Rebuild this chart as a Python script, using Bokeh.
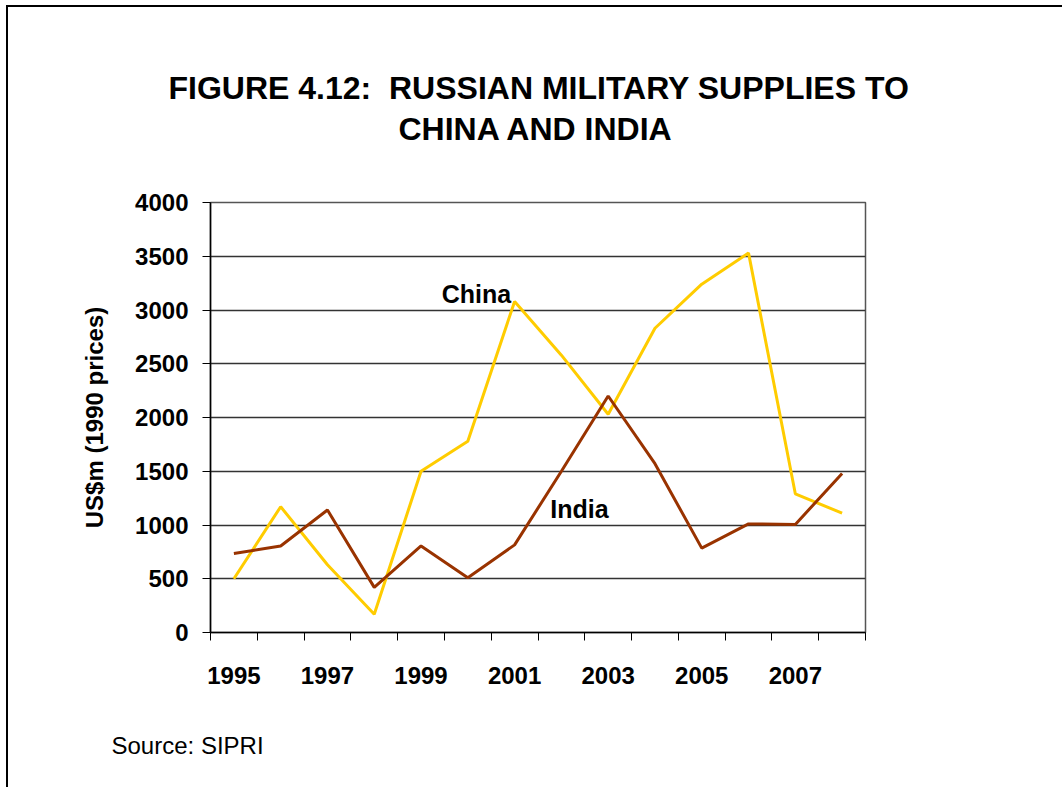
from bokeh.plotting import figure
from bokeh.models import FixedTicker, Label, Range1d, Title
from bokeh.embed import file_html
from bokeh.resources import INLINE

years = list(range(1995, 2009))
china = [500, 1170, 630, 170, 1500, 1780, 3080, 2580, 2030, 2830, 3240, 3530, 1290, 1110]
india = [735, 805, 1140, 420, 805, 510, 815, 1500, 2200, 1570, 785, 1010, 1005, 1480]
y_ticks = [0, 500, 1000, 1500, 2000, 2500, 3000, 3500, 4000]
x_tick_labels = [1995, 1997, 1999, 2001, 2003, 2005, 2007]

FONT = "Liberation Sans"

# canvas placed at page (8, 7)
CX, CY = 8, 7
W, H = 1056, 782
FX0, FX1, FY0, FY1 = 210.0, 865.0, 202.0, 632.0

p = figure(width=W, height=H, output_backend="svg", toolbar_location=None,
           x_range=Range1d(1994.5, 2008.5), y_range=Range1d(0, 4000),
           min_border_left=int(FX0 - CX), min_border_top=int(FY0 - CY),
           min_border_right=int(CX + W - FX1), min_border_bottom=int(CY + H - FY1))
p.title = None
p.styles = {"margin-left": "6px", "margin-top": "5px",
            "border-left": "2px solid black", "border-top": "2px solid black"}

p.background_fill_color = "white"
p.border_fill_color = "white"
p.outline_line_color = "#555555"
p.outline_line_width = 1.5

# axes
p.yaxis.ticker = FixedTicker(ticks=y_ticks)
p.yaxis.major_tick_out = 8
p.yaxis.major_tick_in = 0
p.yaxis.minor_tick_out = 0
p.yaxis.minor_tick_in = 0
p.yaxis.major_label_standoff = 14
p.yaxis.major_label_text_font = FONT
p.yaxis.major_label_text_font_style = "bold"
p.yaxis.major_label_text_font_size = "24px"
p.yaxis.major_label_text_color = "black"
p.yaxis.axis_line_color = "black"
p.yaxis.axis_line_width = 1.5
p.yaxis.major_tick_line_color = "black"
p.yaxis.axis_label = "US$m (1990 prices)"
p.yaxis.axis_label_text_font = FONT
p.yaxis.axis_label_text_font_style = "bold"
p.yaxis.axis_label_text_font_size = "24px"
p.yaxis.axis_label_text_color = "black"
p.yaxis.axis_label_standoff = 24

p.xaxis.ticker = FixedTicker(ticks=x_tick_labels,
                             minor_ticks=[y - 0.5 for y in years] + [years[-1] + 0.5])
p.xaxis.major_tick_out = 0
p.xaxis.major_tick_in = 0
p.xaxis.minor_tick_out = 8
p.xaxis.minor_tick_in = 0
p.xaxis.minor_tick_line_color = "black"
p.xaxis.major_label_standoff = 26
p.xaxis.major_label_text_font = FONT
p.xaxis.major_label_text_font_style = "bold"
p.xaxis.major_label_text_font_size = "24px"
p.xaxis.major_label_text_color = "black"
p.xaxis.axis_line_color = "black"
p.xaxis.axis_line_width = 1.5
# blank spacer label under the year labels (pushes the source note down)
p.xaxis.axis_label = "\u00a0"
p.xaxis.axis_label_text_font_size = "12px"
p.xaxis.axis_label_standoff = 0

p.xgrid.grid_line_color = None
p.ygrid.ticker = FixedTicker(ticks=y_ticks)
p.ygrid.grid_line_color = "#333333"
p.ygrid.grid_line_width = 1.5

p.line(years, china, line_color="#FFCC00", line_width=3)
p.line(years, india, line_color="#993300", line_width=3)

# titles (first added sits closest to the frame)
p.add_layout(Title(text="CHINA AND INDIA", align="left", offset=403 - FX0 - 5,
                   text_font=FONT, text_font_size="32px", text_font_style="bold",
                   text_color="black", standoff=112), "above")
p.add_layout(Title(text="FIGURE 4.12: \u00a0RUSSIAN MILITARY SUPPLIES TO", align="left",
                   offset=173 - FX0 - 5, text_font=FONT, text_font_size="32px",
                   text_font_style="bold", text_color="black", standoff=-107), "above")
p.add_layout(Title(text="Source: SIPRI", align="left", offset=116 - FX0 - 5,
                   text_font=FONT, text_font_size="24px", text_font_style="normal",
                   text_color="black", standoff=52), "below")

def px2x(px):
    return 1994.5 + (px - FX0) / (FX1 - FX0) * 14.0
def py2y(py):
    return (FY1 - py) / (FY1 - FY0) * 4000.0

def add_data_label(text, px, py, size):
    p.add_layout(Label(x=px2x(px), y=py2y(py), text=text, text_font=FONT,
                       text_font_size=size, text_font_style="bold",
                       text_align="center", text_baseline="middle", text_color="black"))

add_data_label("China", 476, 293, "25px")
add_data_label("India", 579, 508, "25px")

open("out.html", "w").write(file_html(p, INLINE))
